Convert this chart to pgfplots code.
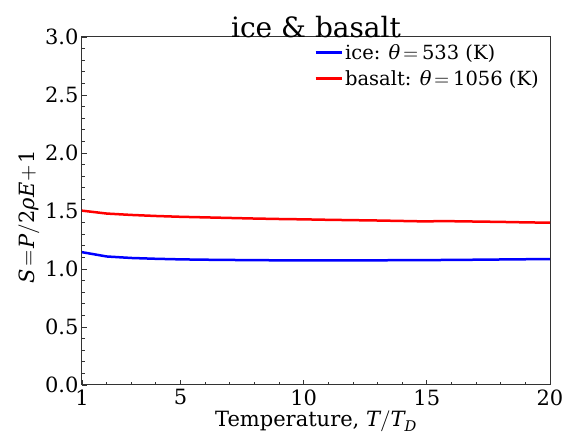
\documentclass[border=0pt]{standalone}
\usepackage{fontspec}
\setmainfont{DejaVu Serif}
\usepackage{unicode-math}
\setmathfont{Latin Modern Math}
\setmathfont[range=it]{DejaVu Serif Italic}
\setmathfont[range=up]{DejaVu Serif}
\usepackage{pgfplots}
\pgfplotsset{compat=1.18}
\begin{document}
\begin{tikzpicture}
\begin{axis}[
  name=ax,
  scale only axis,
  width=468pt, height=348pt,
  xmin=1, xmax=20, ymin=0, ymax=3,
  xtick={1,5,10,15,20},
  minor xtick={2,3,4,6,7,8,9,11,12,13,14,16,17,18,19},
  ytick={0,0.5,1,1.5,2,2.5,3},
  minor ytick={0.1,0.2,0.3,0.4,0.6,0.7,0.8,0.9,1.1,1.2,1.3,1.4,1.6,1.7,1.8,1.9,2.1,2.2,2.3,2.4,2.6,2.7,2.8,2.9},
  yticklabel style={/pgf/number format/fixed, /pgf/number format/fixed zerofill, /pgf/number format/precision=1},
  /pgf/number format/assume math mode=true,
  tick align=inside,
  xtick pos=bottom, ytick pos=left,
  major tick length=5pt, minor tick length=3pt,
  tick style={black!80, line width=0.8pt},
  axis line style={black!80, line width=1pt},
  ticklabel style={font=\fontsize{21}{24}\selectfont},
  xticklabel style={yshift=-1pt},
  yticklabel style={xshift=0pt},
  xlabel={Temperature, $T/T_D$},
  ylabel={$S\!=\!P/2\rho E\!+\!1$},
  xlabel style={font=\fontsize{21}{25}\selectfont, yshift=2pt},
  ylabel style={font=\fontsize{21}{25}\selectfont, yshift=-2pt, xshift=-6pt},
  title={ice \& basalt},
  title style={font=\fontsize{28}{32}\selectfont, yshift=-10pt},
  legend style={draw=none, fill=none, at={(0.985,0.99)}, anchor=north east,
    font=\fontsize{19.5}{23}\selectfont, row sep=5pt, inner sep=2pt},
  legend cell align=left,
  legend image code/.code={\draw[#1, line width=3pt] (0pt,0pt) -- (26pt,0pt);},
]
\addplot[blue, line width=2.5pt] coordinates {
  (1,1.145) (2,1.108) (3,1.095) (4,1.088) (5,1.083) (6,1.080) (7,1.078)
  (8,1.076) (9,1.075) (10,1.074) (11,1.074) (12,1.074) (13,1.075) (14,1.076)
  (15,1.077) (16,1.078) (17,1.080) (18,1.082) (19,1.084) (20,1.086)
};
\addlegendentry{ice: $\theta\,{=}\,533$ (K)}
\addplot[red, line width=2.5pt] coordinates {
  (1,1.503) (2,1.478) (3,1.466) (4,1.457) (5,1.450) (6,1.445) (7,1.440)
  (8,1.435) (9,1.431) (10,1.428) (11,1.424) (12,1.421) (13,1.418) (14,1.414)
  (15,1.410) (15.5,1.413) (16,1.412) (17,1.409) (18,1.406) (19,1.402) (20,1.399)
};
\addlegendentry{basalt: $\theta\,{=}\,1056$ (K)}
\end{axis}
\pgfresetboundingbox
\path ([shift={(-82pt,-56pt)}]ax.south west) rectangle ([shift={(33pt,37pt)}]ax.north east);
\end{tikzpicture}
\end{document}
